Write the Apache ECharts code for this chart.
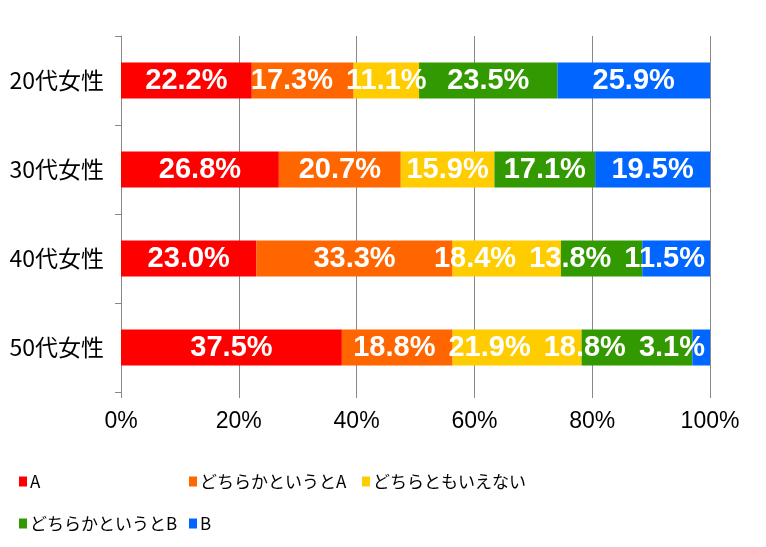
<!DOCTYPE html>
<html><head><meta charset="utf-8">
<script src="https://cdn.jsdelivr.net/npm/echarts@6/dist/echarts.min.js"></script>
<style>html,body{margin:0;padding:0;background:#fff}#c{width:766px;height:547px}</style>
</head><body><div id="c"></div>
<script>
const categories = ['20代女性','30代女性','40代女性','50代女性'];
const seriesNames = ['A','どちらかというとA','どちらともいえない','どちらかというとB','B'];
const valA = [22.2, 26.8, 23.0, 37.5];
const valLeanA = [17.3, 20.7, 33.3, 18.8];
const valNeutral = [11.1, 15.9, 18.4, 21.9];
const valLeanB = [23.5, 17.1, 13.8, 18.8];
const valB = [25.9, 19.5, 11.5, 3.1];
const xTicks = [0, 20, 40, 60, 80, 100];
const colors = ['#FF0000','#FF6600','#FFCC00','#339900','#0066FF'];
const allVals = [valA, valLeanA, valNeutral, valLeanB, valB];

const chart = echarts.init(document.getElementById('c'), null, {renderer:'canvas'});
const jp = '"Noto Sans CJK JP", "Noto Sans", sans-serif';
const legendPos = [[19, 473], [189, 473], [362, 473], [19, 515], [189, 515]];

// label de-overlap (like the original: labels pushed left inside the bar end)
const labelRects = {};
let offsets = null;
function labelLayout(params) {
  const key = params.seriesIndex + '_' + params.dataIndex;
  if (!offsets) { labelRects[key] = params.labelRect; return {}; }
  return {dx: offsets[key] || 0};
}

const option = {
  animation: false,
  backgroundColor: '#fff',
  grid: {left: 121, right: 56, top: 36, bottom: 155},
  xAxis: {
    type: 'value', min: xTicks[0], max: xTicks[xTicks.length-1], interval: 20,
    axisLine: {show: false},
    axisTick: {show: true, length: 6, lineStyle: {color: '#888'}},
    splitLine: {show: true, lineStyle: {color: '#888', width: 1}},
    axisLabel: {formatter: v => v + '%', fontSize: 23, color: '#000', margin: 18, fontFamily: '"Liberation Sans", Arial, sans-serif'}
  },
  yAxis: {
    type: 'category', data: categories, inverse: true,
    axisLine: {show: true, lineStyle: {color: '#888'}},
    axisTick: {show: true, length: 6, lineStyle: {color: '#888'}},
    axisLabel: {fontSize: 23, color: '#000', margin: 17, fontFamily: jp}
  },
  legend: seriesNames.map((n, i) => ({
    left: legendPos[i][0], top: legendPos[i][1], padding: 0, itemWidth: 8, itemHeight: 10, itemGap: 0, icon: 'rect',
    data: [n], selectedMode: false,
    textStyle: {fontSize: 17, color: '#000', fontFamily: jp, padding: [0, 0, 0, -2]}
  })),
  series: seriesNames.map((name, i) => ({
    name, type: 'bar', stack: 'total', barWidth: 36,
    itemStyle: {color: colors[i]},
    label: {show: true, position: 'inside', color: '#fff', fontWeight: 'bold', fontSize: 29,
      fontFamily: '"Liberation Sans", Arial, sans-serif',
      formatter: p => p.value.toFixed(1) + '%'},
    labelLayout: labelLayout,
    data: allVals[i]
  }))
};
chart.setOption(option);

const gridRight = chart.convertToPixel({xAxisIndex: 0}, xTicks[xTicks.length-1]);
const gap = 13;
offsets = {};
categories.forEach((c, d) => {
  let bound = gridRight - 5;
  for (let s = seriesNames.length - 1; s >= 0; s--) {
    const r = labelRects[s + '_' + d];
    if (!r) continue;
    const right = r.x + r.width;
    let dx = 0;
    if (right > bound) dx = bound - right;
    offsets[s + '_' + d] = dx;
    bound = r.x + dx - gap;
  }
});
chart.setOption(option, true);
</script></body></html>
